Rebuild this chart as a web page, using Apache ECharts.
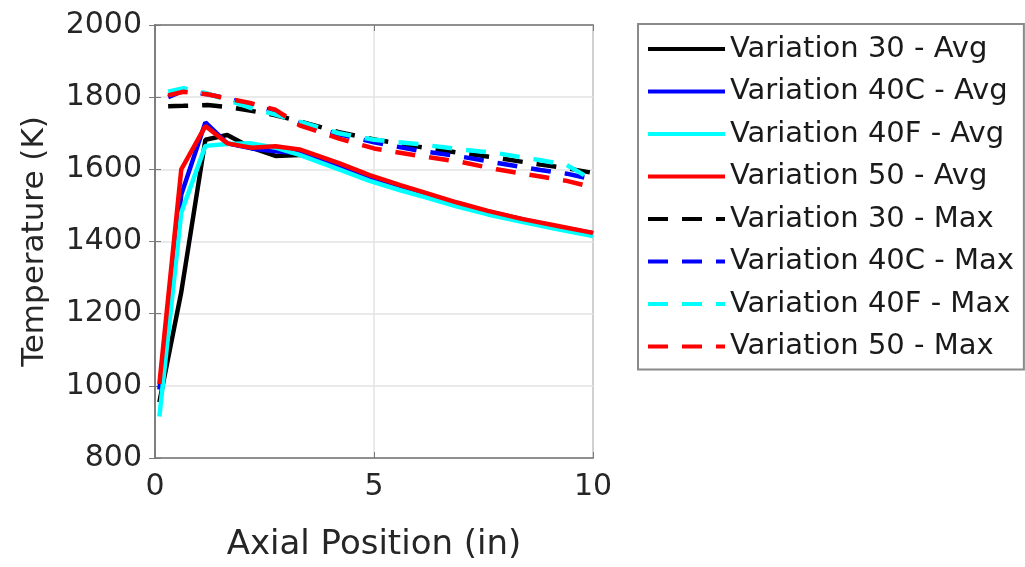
<!DOCTYPE html>
<html>
<head>
<meta charset="utf-8">
<script src="https://cdn.jsdelivr.net/npm/echarts@6/dist/echarts.min.js"></script>
<style>
  html, body { margin: 0; padding: 0; background: #fff; }
  #main { width: 1025px; height: 567px; }
</style>
</head>
<body>
<div id="main"></div>
<script>
// axial positions (in)
const xAvg = [0.1, 0.6, 1.15, 1.65, 2.2, 2.75, 3.3, 4.2, 4.9, 5.6, 6.2, 6.9, 7.6, 8.4, 9.2, 10];
const xMax = [0.3, 0.65, 1.2, 1.7, 2.2, 2.75, 3.3, 4.2, 5.0, 6.0, 7.0, 7.8, 8.8, 9.4, 10];

// temperatures (K) - average
const avg30  = [955, 1260, 1682, 1695, 1660, 1637, 1640, 1610, 1578, 1552, 1530, 1505, 1482, 1460, 1440, 1422];
const avg40C = [990, 1530, 1730, 1672, 1658, 1650, 1645, 1612, 1580, 1553, 1531, 1506, 1483, 1461, 1441, 1423];
const avg40F = [915, 1480, 1665, 1670, 1672, 1660, 1640, 1600, 1568, 1542, 1522, 1497, 1475, 1454, 1434, 1415];
const avg50  = [1005, 1600, 1720, 1672, 1660, 1664, 1655, 1617, 1584, 1556, 1534, 1508, 1485, 1462, 1443, 1424];

// temperatures (K) - max
const max30  = [1775, 1776, 1778, 1772, 1762, 1750, 1733, 1703, 1683, 1663, 1645, 1632, 1613, 1603, 1590];
const max40C = [1800, 1818, 1808, 1795, 1780, 1760, 1728, 1697, 1675, 1652, 1635, 1618, 1598, 1588, 1572];
const max40F = [1815, 1825, 1810, 1790, 1770, 1752, 1732, 1700, 1682, 1670, 1655, 1645, 1625, 1612, 1570];
const max50  = [1805, 1815, 1808, 1795, 1783, 1765, 1722, 1685, 1658, 1638, 1620, 1600, 1580, 1568, 1550];

const names = [
  'Variation 30 - Avg', 'Variation 40C - Avg', 'Variation 40F - Avg', 'Variation 50 - Avg',
  'Variation 30 - Max', 'Variation 40C - Max', 'Variation 40F - Max', 'Variation 50 - Max'
];
const colors = ['#000000', '#0000ff', '#00ffff', '#ff0000'];

const pair = (xs, ys) => xs.map((x, i) => [x, ys[i]]);

const avgSets = [avg30, avg40C, avg40F, avg50];
const maxSets = [max30, max40C, max40F, max50];

const series = [];
avgSets.forEach((ys, i) => {
  series.push({
    name: names[i], type: 'line', data: pair(xAvg, ys),
    symbol: 'none', animation: false,
    lineStyle: { color: colors[i], width: 4.5 }, itemStyle: { color: colors[i] }
  });
});
maxSets.forEach((ys, i) => {
  series.push({
    name: names[i + 4], type: 'line', data: pair(xMax, ys),
    symbol: 'none', animation: false,
    lineStyle: { color: colors[i], width: 4.5, type: [20, 14] }, itemStyle: { color: colors[i] }
  });
});

const font = 'DejaVu Sans';
const axisGray = '#7a7a7a';

const chart = echarts.init(document.getElementById('main'));
chart.setOption({
  backgroundColor: '#fff',
  textStyle: { fontFamily: font },
  grid: { left: 155, right: 432, top: 25, bottom: 107, show: true, borderColor: axisGray, borderWidth: 1.5 },
  legend: {
    data: names,
    orient: 'vertical',
    left: 638, top: 24,
    padding: [9, 10, 7, 8],
    itemWidth: 77, itemHeight: 14, itemGap: 10.5,
    borderColor: '#8a8a8a', borderWidth: 2,
    itemStyle: { opacity: 0 },
    lineStyle: { width: 4 },
    textStyle: { fontFamily: font, fontSize: 29, lineHeight: 32, color: '#1a1a1a' }
  },
  xAxis: [{
    type: 'value', min: 0, max: 10, interval: 5,
    name: 'Axial Position (in)', nameLocation: 'middle', nameGap: 70,
    nameTextStyle: { fontFamily: font, fontSize: 34, color: '#262626' },
    axisLine: { show: true, lineStyle: { color: axisGray, width: 1.5 } },
    axisTick: { show: true, inside: true, length: 6, lineStyle: { color: axisGray } },
    axisLabel: { fontFamily: font, fontSize: 30, color: '#262626', margin: 14 },
    splitLine: { show: true, lineStyle: { color: '#e3e3e3', width: 1.5 } }
  }, {
    type: 'value', min: 0, max: 10, interval: 5, position: 'top',
    axisLine: { show: true, lineStyle: { color: axisGray, width: 1.5 } },
    axisTick: { show: true, inside: true, length: 6, lineStyle: { color: axisGray } },
    axisLabel: { show: false }, splitLine: { show: false }
  }],
  yAxis: [{
    type: 'value', min: 800, max: 2000, interval: 200,
    name: 'Temperature (K)', nameLocation: 'middle', nameGap: 105, nameRotate: 90,
    nameTextStyle: { fontFamily: font, fontSize: 31, color: '#262626' },
    axisLine: { show: true, lineStyle: { color: axisGray, width: 1.5 } },
    axisTick: { show: true, inside: true, length: 6, lineStyle: { color: axisGray } },
    axisLabel: { fontFamily: font, fontSize: 30, color: '#262626', margin: 13, formatter: v => String(v) },
    splitLine: { show: true, lineStyle: { color: '#e3e3e3', width: 1.5 } }
  }, {
    type: 'value', min: 800, max: 2000, interval: 200, position: 'right',
    axisLine: { show: true, lineStyle: { color: axisGray, width: 1.5 } },
    axisTick: { show: true, inside: true, length: 6, lineStyle: { color: axisGray } },
    axisLabel: { show: false }, splitLine: { show: false }
  }],
  series: series
});

window.addEventListener('resize', () => chart.resize());
</script>
</body>
</html>
